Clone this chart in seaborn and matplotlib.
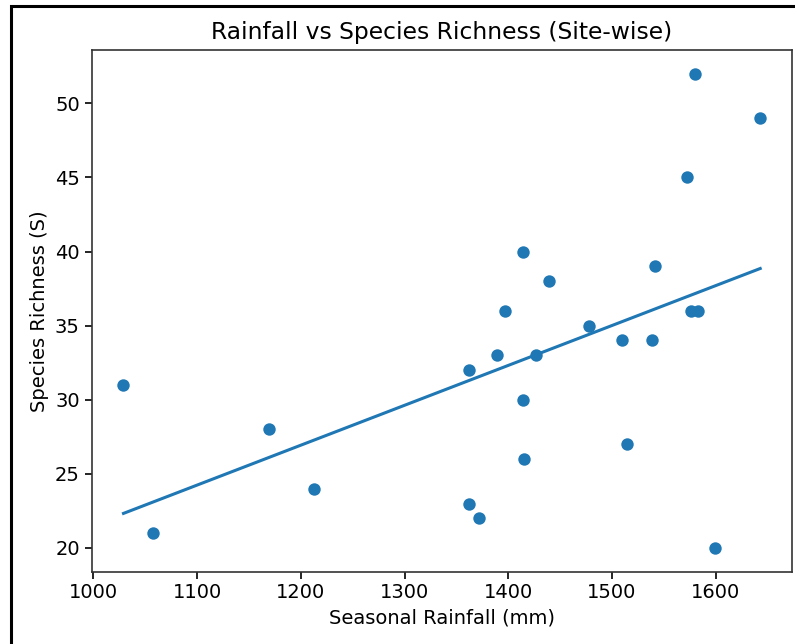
import numpy as np
import pandas as pd
import matplotlib
matplotlib.use("Agg")
import matplotlib.pyplot as plt
import seaborn as sns
from matplotlib.patches import Rectangle

# site-wise values
rainfall = [1029, 1057, 1169, 1213, 1362, 1362, 1372, 1389, 1397, 1414, 1414, 1415, 1427,
            1439, 1478, 1510, 1515, 1539, 1542, 1572, 1576, 1580, 1583, 1599, 1643]
richness = [31, 21, 28, 24, 32, 23, 22, 33, 36, 40, 30, 26, 33,
            38, 35, 34, 27, 34, 39, 45, 36, 52, 36, 20, 49]

df = pd.DataFrame({"rainfall": rainfall, "richness": richness})

plt.rcParams["font.family"] = ["DejaVu Sans"]
fig = plt.figure(figsize=(7.95, 6.44), dpi=100)
ax = fig.add_axes([0.1153, 0.1123, 0.881, 0.810])

sns.regplot(data=df, x="rainfall", y="richness", ci=None, color="#1f77b4", ax=ax,
            scatter_kws={"s": 80, "alpha": 1, "linewidths": 0},
            line_kws={"lw": 2.2})

ax.set_title("Rainfall vs Species Richness (Site-wise)", fontsize=16.8, pad=8)
ax.set_xlabel("Seasonal Rainfall (mm)", fontsize=14)
ax.set_ylabel("Species Richness (S)", fontsize=14)
ax.tick_params(labelsize=14, length=5, width=1.2)
ax.set_xticks([1000, 1100, 1200, 1300, 1400, 1500, 1600])
ax.set_yticks([20, 25, 30, 35, 40, 45, 50])
for s in ax.spines.values():
    s.set_linewidth(1.2)
    s.set_color("#333333")

# figure frame from the screenshot
fig.patches.append(Rectangle((11 / 795, -0.05), 1.2, 1 - 6 / 644 + 0.05,
                             transform=fig.transFigure, fill=False,
                             edgecolor="black", lw=2.2, zorder=10))

fig.savefig("out.png", dpi=100)
